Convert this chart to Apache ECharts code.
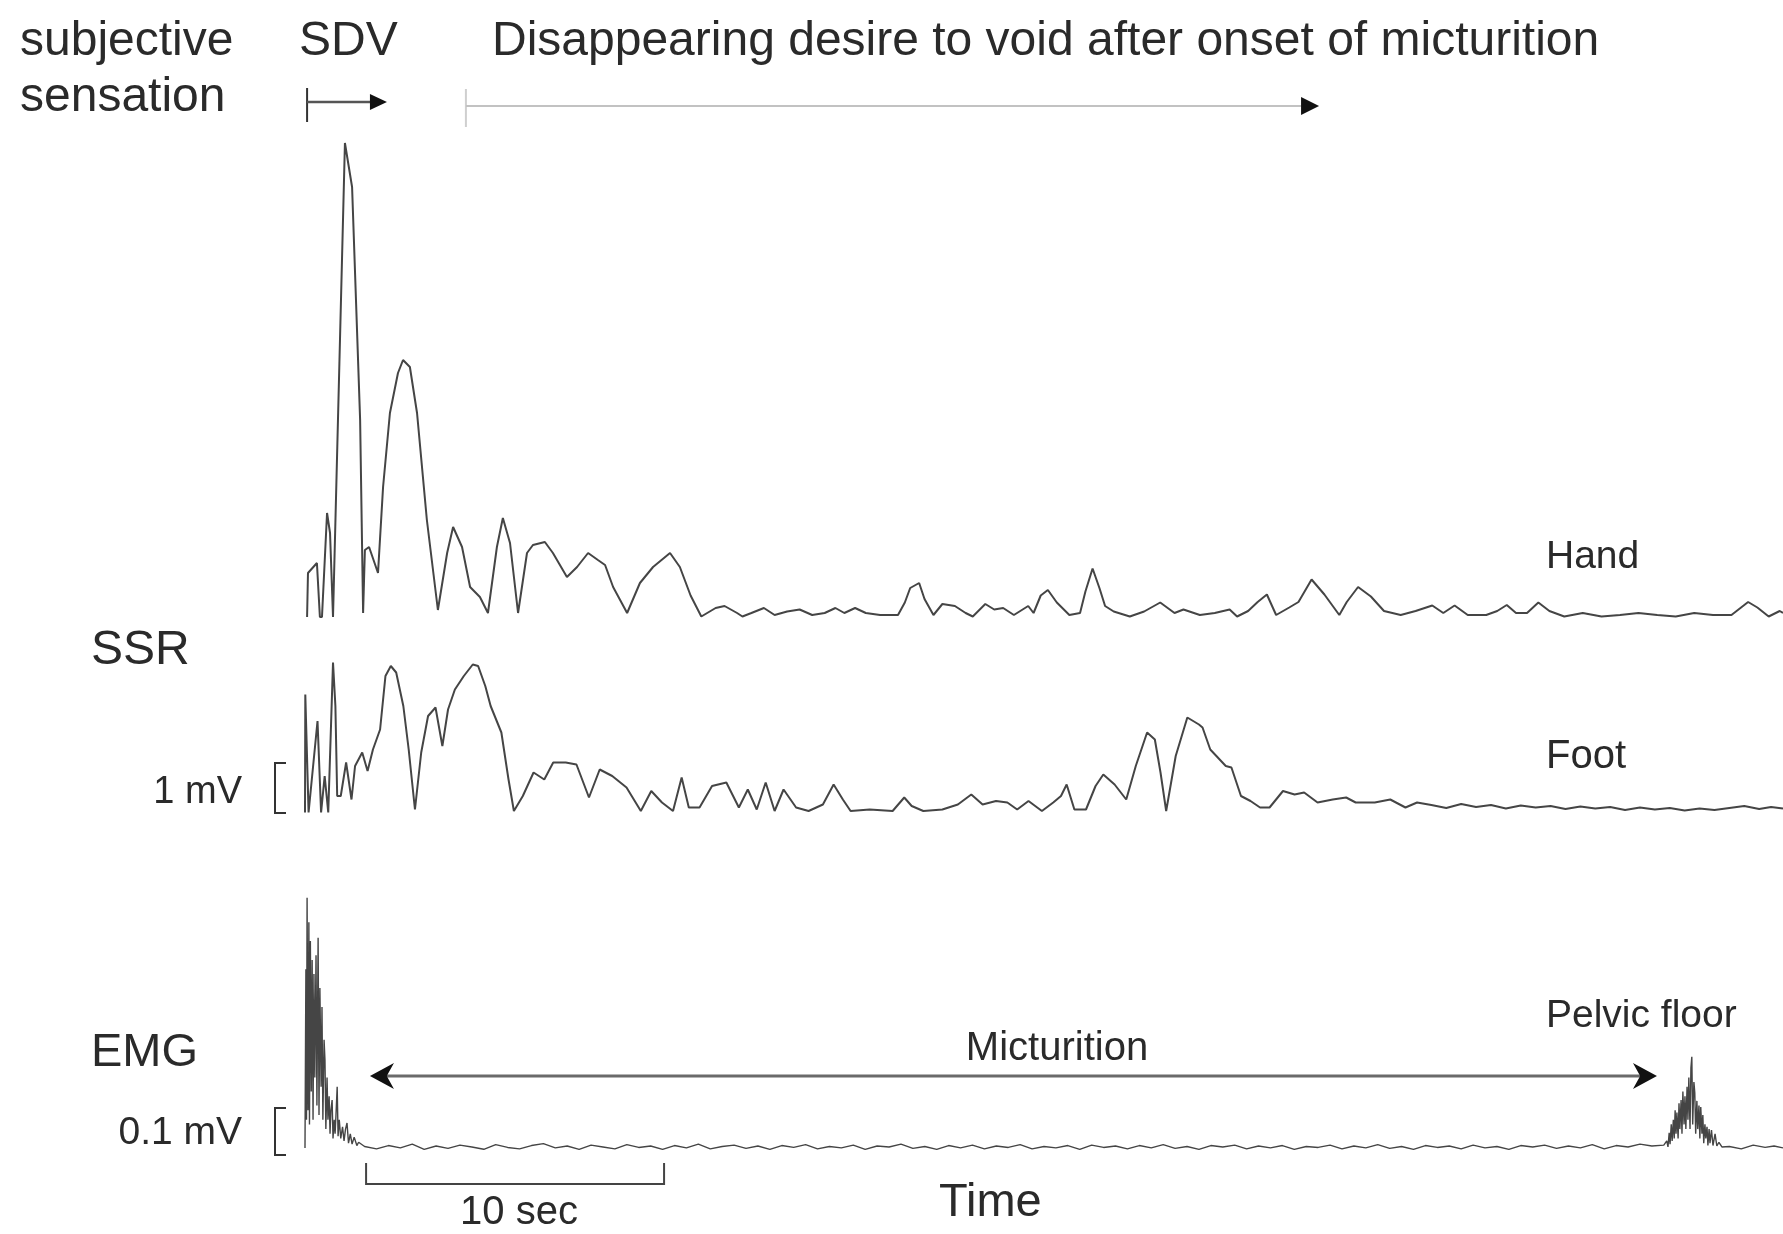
<!DOCTYPE html>
<html>
<head>
<meta charset="utf-8">
<title>SSR and EMG during micturition</title>
<script src="https://cdn.jsdelivr.net/npm/echarts@6/dist/echarts.min.js"></script>
<style>
  html, body { margin: 0; padding: 0; background: #fff; }
  #chart { width: 1783px; height: 1234px; }
</style>
</head>
<body>
<div id="chart"></div>
<script>
// time in seconds from the onset of the response, SSR in mV, EMG in µV
const handTime = [0.07, 0.10, 0.40, 0.50, 0.57, 0.74, 0.84, 0.94, 1.34, 1.58,
  1.85, 1.95, 2.01, 2.15, 2.45, 2.62, 2.85, 3.12, 3.29, 3.52,
  3.76, 4.09, 4.46, 4.77, 4.97, 5.27, 5.54, 5.87, 6.14, 6.44,
  6.64, 6.88, 7.15, 7.45, 7.65, 8.05, 8.32, 8.79, 9.13, 9.50,
  9.83, 10.07, 10.34, 10.81, 11.24, 11.68, 12.25, 12.58,
  12.94, 13.30, 13.78, 14.08, 14.50, 14.68, 14.98, 15.40, 15.76, 16.18,
  16.60, 17.02, 17.44, 17.80, 18.10, 18.46, 18.82, 19.30, 19.90, 20.13,
  20.31, 20.61, 20.79, 21.09, 21.39, 21.81, 22.17, 22.41, 22.83, 23.13,
  23.43, 23.79, 24.27, 24.45, 24.69, 24.93, 25.23, 25.65, 26.01, 26.19,
  26.43, 26.66, 26.85, 27.14, 27.68, 28.16, 28.70, 29.18, 29.48,
  30.03, 30.53, 31.03, 31.28, 31.65, 31.97, 32.28, 32.59, 33.03, 33.34,
  33.78, 34.21, 34.71, 34.96, 35.34, 35.77, 36.21, 36.77, 37.27, 37.83,
  38.20, 38.58, 39.02, 39.64, 40.01, 40.33, 40.64, 41.01, 41.39, 41.76,
  42.26, 42.88, 43.51, 44.13, 44.75, 45.38, 46.00, 46.62, 47.25, 47.87,
  48.43, 48.74, 49.12, 49.49, 49.60];
const handMv = [-0.02, 0.86, 1.06, -0.02, -0.02, 2.06, 1.66, -0.02, 9.46, 8.58,
  3.92, 0.06, 1.32, 1.38, 0.86, 2.58, 4.06, 4.86, 5.12, 4.98,
  4.06, 1.92, 0.12, 1.26, 1.78, 1.38, 0.58, 0.38, 0.06, 1.38,
  1.96, 1.46, 0.06, 1.26, 1.42, 1.48, 1.26, 0.78, 0.98, 1.26,
  1.12, 1.02, 0.58, 0.06, 0.66, 0.98, 1.26, 0.98,
  0.41, -0.01, 0.16, 0.20, 0.06, -0.01, 0.06, 0.16, 0.02, 0.09,
  0.13, 0.02, 0.06, 0.16, 0.06, 0.16, 0.06, 0.02, 0.02, 0.27,
  0.56, 0.66, 0.34, 0.02, 0.24, 0.20, 0.06, -0.01, 0.24, 0.13,
  0.16, 0.02, 0.20, 0.06, 0.41, 0.52, 0.27, 0.02, 0.06, 0.49,
  0.95, 0.56, 0.20, 0.09, -0.01, 0.09, 0.27, 0.06, 0.13,
  0.02, 0.06, 0.13, -0.01, 0.10, 0.28, 0.43, 0.02, 0.17, 0.28,
  0.73, 0.43, 0.02, 0.28, 0.58, 0.39, 0.10, 0.02, 0.10, 0.21,
  0.06, 0.21, 0.02, 0.02, 0.10, 0.22, 0.06, 0.06, 0.27, 0.10,
  -0.01, 0.06, -0.01, 0.02, 0.06, 0.02, -0.01, 0.06, 0.02, 0.02,
  0.28, 0.17, -0.01, 0.10, 0.06];

const footTime = [0.00, 0.01, 0.12, 0.42, 0.54, 0.66, 0.78, 0.94, 1.02, 1.08,
  1.20, 1.38, 1.56, 1.68, 1.92, 2.10, 2.28, 2.52, 2.70, 2.88,
  3.06, 3.30, 3.48, 3.69, 3.90, 4.13, 4.38, 4.61, 4.80, 5.03,
  5.33, 5.63, 5.81, 6.05, 6.23, 6.59, 6.83, 7.01, 7.31, 7.67,
  8.03, 8.33, 8.75, 9.11, 9.53, 9.89, 10.31, 10.79, 11.27, 11.62,
  11.98, 12.35, 12.64, 12.88, 13.24, 13.66, 14.14, 14.56, 14.86, 15.16,
  15.46, 15.76, 16.06, 16.48, 16.90, 17.38, 17.74,
  18.05, 18.31, 18.95, 19.72, 20.11, 20.36, 20.75, 21.39, 21.91, 22.36,
  22.74, 23.19, 23.57, 23.90, 24.28, 24.73, 25.11, 25.37, 25.56, 25.82,
  26.21, 26.53, 26.79, 27.17, 27.56, 27.88, 28.26, 28.52, 28.71, 28.90,
  29.22, 29.61, 30.00, 30.12, 30.38, 30.90, 31.09, 31.41, 31.73, 32.05,
  32.37, 32.82, 33.21, 33.53, 33.98, 34.49, 34.94, 35.26, 35.90, 36.42,
  36.93, 37.32,
  37.8, 38.3, 38.8, 39.3, 39.8, 40.3, 40.8, 41.3, 41.8, 42.3,
  42.8, 43.3, 43.8, 44.3, 44.8, 45.3, 45.8, 46.3, 46.8, 47.3,
  47.8, 48.3, 48.8, 49.2, 49.6];
const footMv = [-0.05, 2.31, -0.05, 1.78, -0.05, 0.68, -0.05, 2.95, 2.08, 0.28,
  0.28, 0.95, 0.21, 0.88, 1.15, 0.78, 1.21, 1.61, 2.68, 2.88,
  2.75, 2.08, 1.21, 0.01, 1.15, 1.88, 2.05, 1.28, 2.01, 2.41,
  2.68, 2.91, 2.88, 2.48, 2.08, 1.55, 0.61, -0.02, 0.28, 0.75,
  0.61, 0.95, 0.95, 0.91, 0.25, 0.81, 0.68, 0.45, -0.02, 0.38,
  0.15, -0.02, 0.65, 0.05, 0.05, 0.48, 0.55, 0.05, 0.41, 0.01,
  0.55, -0.02, 0.41, 0.05, -0.02, 0.11, 0.51,
  0.21, -0.02, 0.01, -0.02, 0.25, 0.08, -0.02, 0.01, 0.11, 0.31,
  0.11, 0.18, 0.15, 0.01, 0.18, -0.02, 0.15, 0.28, 0.51, 0.01,
  0.01, 0.48, 0.71, 0.51, 0.21, 0.88, 1.55, 1.41, 0.75, -0.02,
  1.08, 1.85, 1.71, 1.65, 1.21, 0.88, 0.85, 0.28, 0.18, 0.05,
  0.05, 0.38, 0.31, 0.35, 0.15, 0.21, 0.25, 0.15, 0.15, 0.21,
  0.05, 0.15,
  0.10, 0.04, 0.12, 0.06, 0.10, 0.03, 0.09, 0.05, 0.08, 0.02,
  0.07, 0.03, 0.06, 0.00, 0.05, 0.01, 0.04, -0.01, 0.03, 0.00,
  0.04, 0.08, 0.02, 0.06, 0.03];

// pelvic floor EMG: onset burst, quiet micturition, burst at the end
const emgOnsetTime = [0.00, 0.03, 0.05, 0.07, 0.10, 0.13, 0.15, 0.18, 0.21, 0.24,
  0.27, 0.30, 0.33, 0.37, 0.40, 0.44, 0.47, 0.50, 0.54, 0.57,
  0.60, 0.64, 0.67, 0.70, 0.74, 0.77, 0.81, 0.84, 0.87, 0.91,
  0.94, 0.98, 1.01, 1.04, 1.08, 1.11, 1.15, 1.20, 1.26, 1.31,
  1.36, 1.41, 1.46, 1.52, 1.58, 1.65, 1.74, 1.80];
const emgOnsetUv = [0, 380, 60, 532, 80, 480, 50, 440, 120, 400,
  60, 370, 150, 410, 90, 447, 70, 340, 130, 300,
  60, 230, 187, 40, 150, 60, 110, 30, 80, 102,
  20, 60, 30, 70, 130, 25, 60, 20, 45, 15,
  40, 53, 10, 30, 8, 23, 5, 12];
const emgQuietTime = [2.0, 2.4, 2.8, 3.2, 3.6, 4.0, 4.4, 4.8, 5.2, 5.6,
  6.0, 6.4, 6.8, 7.2, 7.6, 8.0, 8.4, 8.8, 9.2, 9.6,
  10.0, 10.4, 10.8, 11.2, 11.6, 12.0, 12.4, 12.8, 13.2, 13.6,
  14.0, 14.4, 14.8, 15.2, 15.6, 16.0, 16.4, 16.8, 17.2, 17.6,
  18.0, 18.4, 18.8, 19.2, 19.6, 20.0, 20.4, 20.8, 21.2, 21.6,
  22.0, 22.4, 22.8, 23.2, 23.6, 24.0, 24.4, 24.8, 25.2, 25.6,
  26.0, 26.4, 26.8, 27.2, 27.6, 28.0, 28.4, 28.8, 29.2, 29.6,
  30.0, 30.4, 30.8, 31.2, 31.6, 32.0, 32.4, 32.8, 33.2, 33.6,
  34.0, 34.4, 34.8, 35.2, 35.6, 36.0, 36.4, 36.8, 37.2, 37.6,
  38.0, 38.4, 38.8, 39.2, 39.6, 40.0, 40.4, 40.8, 41.2, 41.6,
  42.0, 42.4, 42.8, 43.2, 43.6, 44.0, 44.4, 44.8, 45.2];
const emgQuietUv = [3, -2, 5, 0, 8, -3, 4, -1, 6, 2,
  -3, 7, 1, -2, 5, 9, 0, 4, -3, 6,
  2, -2, 7, 1, 4, -3, 5, 0, 8, -2,
  3, 6, -1, 4, -3, 5, 1, 7, -2, 3,
  0, 6, -3, 4, 2, 8, -1, 3, -3, 5,
  0, 6, -2, 4, 1, 7, -2, 3, 0, 5,
  -3, 6, 1, 4, -2, 5, 0, 7, -1, 3,
  -3, 5, 2, 6, -2, 4, 0, 5, -3, 3,
  1, 6, -2, 4, 0, 7, -1, 3, -3, 5,
  1, 4, -2, 6, 0, 3, -3, 5, 2, 6,
  -1, 4, 0, 7, -2, 5, 2, 8, 4];
const emgEndTime = [45.60, 45.70, 45.74, 45.78, 45.81, 45.85, 45.88, 45.92, 45.95, 45.98,
  46.01, 46.04, 46.08, 46.11, 46.14, 46.18, 46.21, 46.24, 46.28, 46.31,
  46.34, 46.38, 46.41, 46.44, 46.48, 46.51, 46.54, 46.57, 46.61, 46.64,
  46.67, 46.71, 46.74, 46.78, 46.81, 46.84, 46.88, 46.91, 46.94, 46.98,
  47.01, 47.05, 47.08, 47.12, 47.15, 47.20, 47.25, 47.32, 47.38, 47.45,
  47.55, 47.8, 48.2, 48.6, 49.0, 49.3, 49.6];
const emgEndUv = [6, 15, 2, 32, 8, 50, 15, 60, 20, 80,
  30, 75, 20, 95, 40, 102, 30, 120, 50, 110,
  40, 130, 60, 150, 40, 170, 194, 50, 140, 117,
  30, 100, 40, 90, 20, 87, 30, 70, 10, 50,
  20, 45, 5, 40, 10, 38, 5, 30, 4, 12,
  2, 3, -2, 6, 1, 4, 0];

// annotation spans on the time axis (s)
const sdvSpan = [0.07, 2.75];
const desireSpan = [5.40, 34.03];
const micturitionSpan = [2.18, 45.37];
const scaleBarSpan = [2.05, 12.05];
const footScale = [-0.06, 0.94];   // 1 mV
const emgScale = [-15, 85];        // 0.1 mV = 100 µV

const pairs = (t, v) => t.map((x, i) => [x, v[i]]);
const emgTime = emgOnsetTime.concat(emgQuietTime, emgEndTime);
const emgUv = emgOnsetUv.concat(emgQuietUv, emgEndUv);

const font = '"Liberation Sans", Arial, Helvetica, sans-serif';
const ink = '#2a2a2a';
const trace = '#454545';

const chart = echarts.init(document.getElementById('chart'));

function line(name, idx, data, width) {
  return {
    name, type: 'line', xAxisIndex: idx, yAxisIndex: idx, data,
    showSymbol: false, smooth: false, clip: false, silent: true,
    lineStyle: { color: trace, width }
  };
}

chart.setOption({
  animation: false,
  backgroundColor: '#ffffff',
  grid: [
    { left: 305, right: 0, top: 126, height: 500 },
    { left: 305, right: 0, top: 650, height: 170 },
    { left: 305, right: 0, top: 880, height: 282 }
  ],
  xAxis: [0, 1, 2].map(i => ({ type: 'value', gridIndex: i, min: 0, max: 49.6, show: false })),
  yAxis: [
    { type: 'value', gridIndex: 0, min: -0.2, max: 9.8, show: false },
    { type: 'value', gridIndex: 1, min: -0.2, max: 3.2, show: false },
    { type: 'value', gridIndex: 2, min: -30, max: 570, show: false }
  ],
  series: [
    line('Hand', 0, pairs(handTime, handMv), 2),
    line('Foot', 1, pairs(footTime, footMv), 2),
    line('Pelvic floor', 2, pairs(emgTime, emgUv), 1.4)
  ]
});

// annotations placed through the axes
const at = (g, t, v) => chart.convertToPixel({ gridIndex: g }, [t, v]);
const xAt = t => at(0, t, 0)[0];

function label(text, x, y, size, align) {
  return {
    type: 'text', x, y, silent: true,
    style: {
      text, font: size + 'px ' + font, fill: ink,
      align: align || 'left', verticalAlign: 'middle',
      textAlign: align || 'left', textVerticalAlign: 'middle'
    }
  };
}
function seg(x1, y1, x2, y2, color, width) {
  return { type: 'line', silent: true, shape: { x1, y1, x2, y2 }, style: { stroke: color, lineWidth: width } };
}
function head(tip, y, dir, len, half, notch) {
  const b = tip - dir * len;
  const n = tip - dir * len * notch;
  return {
    type: 'polygon', silent: true,
    shape: { points: [[tip, y], [b, y - half], [n, y], [b, y + half]] },
    style: { fill: '#111' }
  };
}
function bracket(g, range) {
  const y0 = at(g, 0, range[0])[1];
  const y1 = at(g, 0, range[1])[1];
  return {
    type: 'polyline', silent: true,
    shape: { points: [[286, y1], [275, y1], [275, y0], [286, y0]] },
    style: { stroke: '#333', lineWidth: 2, fill: null }
  };
}

const g = [];
// top sensation arrows
const sdv0 = xAt(sdvSpan[0]), sdv1 = xAt(sdvSpan[1]);
g.push(seg(sdv0, 88, sdv0, 122, '#333', 2));
g.push(seg(sdv0, 102, sdv1 - 14, 102, '#555', 2.5));
g.push(head(sdv1, 102, 1, 17, 8, 1));
const d0 = xAt(desireSpan[0]), d1 = xAt(desireSpan[1]);
g.push(seg(d0, 89, d0, 127, '#cfcfcf', 2));
g.push(seg(d0, 106, d1 - 14, 106, '#c2c2c2', 2));
g.push(head(d1, 106, 1, 18, 9, 1));
// micturition double arrow
const m0 = xAt(micturitionSpan[0]), m1 = xAt(micturitionSpan[1]);
g.push(seg(m0 + 8, 1076, m1 - 8, 1076, '#6a6a6a', 3));
g.push(head(m0, 1076, -1, 24, 13, 0.7));
g.push(head(m1, 1076, 1, 24, 13, 0.7));
// 10 sec scale bar
const s0 = xAt(scaleBarSpan[0]), s1 = xAt(scaleBarSpan[1]);
g.push({
  type: 'polyline', silent: true,
  shape: { points: [[s0, 1163], [s0, 1184], [s1, 1184], [s1, 1163]] },
  style: { stroke: '#444', lineWidth: 2, fill: null }
});
// amplitude brackets
g.push(bracket(1, footScale));
g.push(bracket(2, emgScale));

// texts
g.push(label('subjective', 20, 42, 48));
g.push(label('sensation', 20, 98, 48));
g.push(label('SDV', 299, 42, 48));
g.push(label('Disappearing desire to void after onset of micturition', 492, 42, 48));
g.push(label('Hand', 1546, 557, 39));
g.push(label('SSR', 91, 651, 48));
g.push(label('Foot', 1546, 757, 40));
g.push(label('1 mV', 242, 793, 38, 'right'));
g.push(label('EMG', 91, 1053, 47));
g.push(label('0.1 mV', 242, 1133, 39, 'right'));
g.push(label('Micturition', 1057, 1049, 40, 'center'));
g.push(label('Pelvic floor', 1546, 1016, 39));
g.push(label('Time', 939, 1203, 47));
g.push(label('10 sec', 519, 1213, 40, 'center'));

chart.setOption({ graphic: { elements: g } });
</script>
</body>
</html>
